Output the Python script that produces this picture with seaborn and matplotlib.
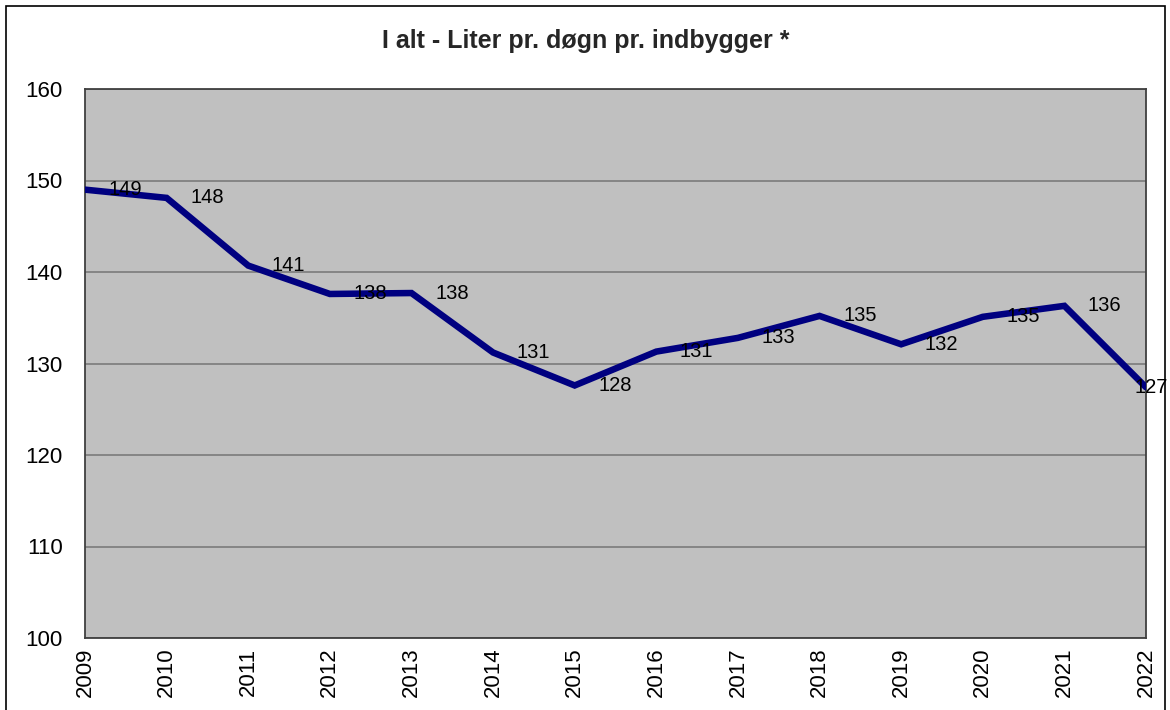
import matplotlib
matplotlib.use("Agg")
import matplotlib.pyplot as plt
import seaborn as sns
import pandas as pd
from matplotlib.patches import Rectangle

years = [2009, 2010, 2011, 2012, 2013, 2014, 2015, 2016, 2017, 2018, 2019, 2020, 2021, 2022]
values = [149.0, 148.1, 140.7, 137.6, 137.7, 131.2, 127.6, 131.3, 132.8, 135.2, 132.1, 135.1, 136.3, 127.4]
title = "I alt - Liter pr. døgn pr. indbygger *"
y_ticks = [100, 110, 120, 130, 140, 150, 160]

df = pd.DataFrame({"year": years, "value": values})

sns.set_theme(style="white")
plt.rcParams["font.family"] = ["Liberation Sans", "DejaVu Sans"]

fig = plt.figure(figsize=(11.7, 7.1), dpi=100)
ax = fig.add_axes([85 / 1170, 1 - 638 / 710, (1146 - 85) / 1170, (638 - 89) / 710])
ax.set_facecolor("#C0C0C0")

sns.lineplot(data=df, x="year", y="value", ax=ax, color="#000080", linewidth=4.7,
             solid_joinstyle="miter", zorder=3)

ax.set_xlim(years[0], years[-1])
ax.set_ylim(y_ticks[0], y_ticks[-1])
ax.set_yticks(y_ticks)
ax.set_xticks(years)
ax.set_xticklabels([str(y) for y in years], rotation=90, fontsize=16)
ax.set_yticklabels([str(t) for t in y_ticks], fontsize=16)
ax.tick_params(axis="y", length=0, pad=16, colors="black")
ax.tick_params(axis="x", length=0, pad=7, colors="black")
ax.grid(axis="y", color="#808080", linewidth=1.3)
ax.grid(axis="x", visible=False)
ax.set_xlabel("")
ax.set_ylabel("")
for s in ax.spines.values():
    s.set_color("#404040")
    s.set_linewidth(1.3)
    s.set_visible(True)

for i, (x, v) in enumerate(zip(years, values)):
    dx = 17 if i < len(years) - 1 else -8
    ax.annotate(f"{v:.0f}", (x, v), xytext=(dx, 0), textcoords="offset points",
                ha="left", va="center", fontsize=14.5, color="black", zorder=4,
                annotation_clip=False)

fig.text(586 / 1170, 1 - 41 / 710, title, ha="center", va="center",
         fontsize=18, fontweight="bold")

fig.patches.append(Rectangle((6 / 1170, -0.05), (1165 - 6) / 1170, (1 - 6 / 710) + 0.05,
                             transform=fig.transFigure, fill=False,
                             edgecolor="black", linewidth=1.2))

fig.savefig("out.png", dpi=100)
